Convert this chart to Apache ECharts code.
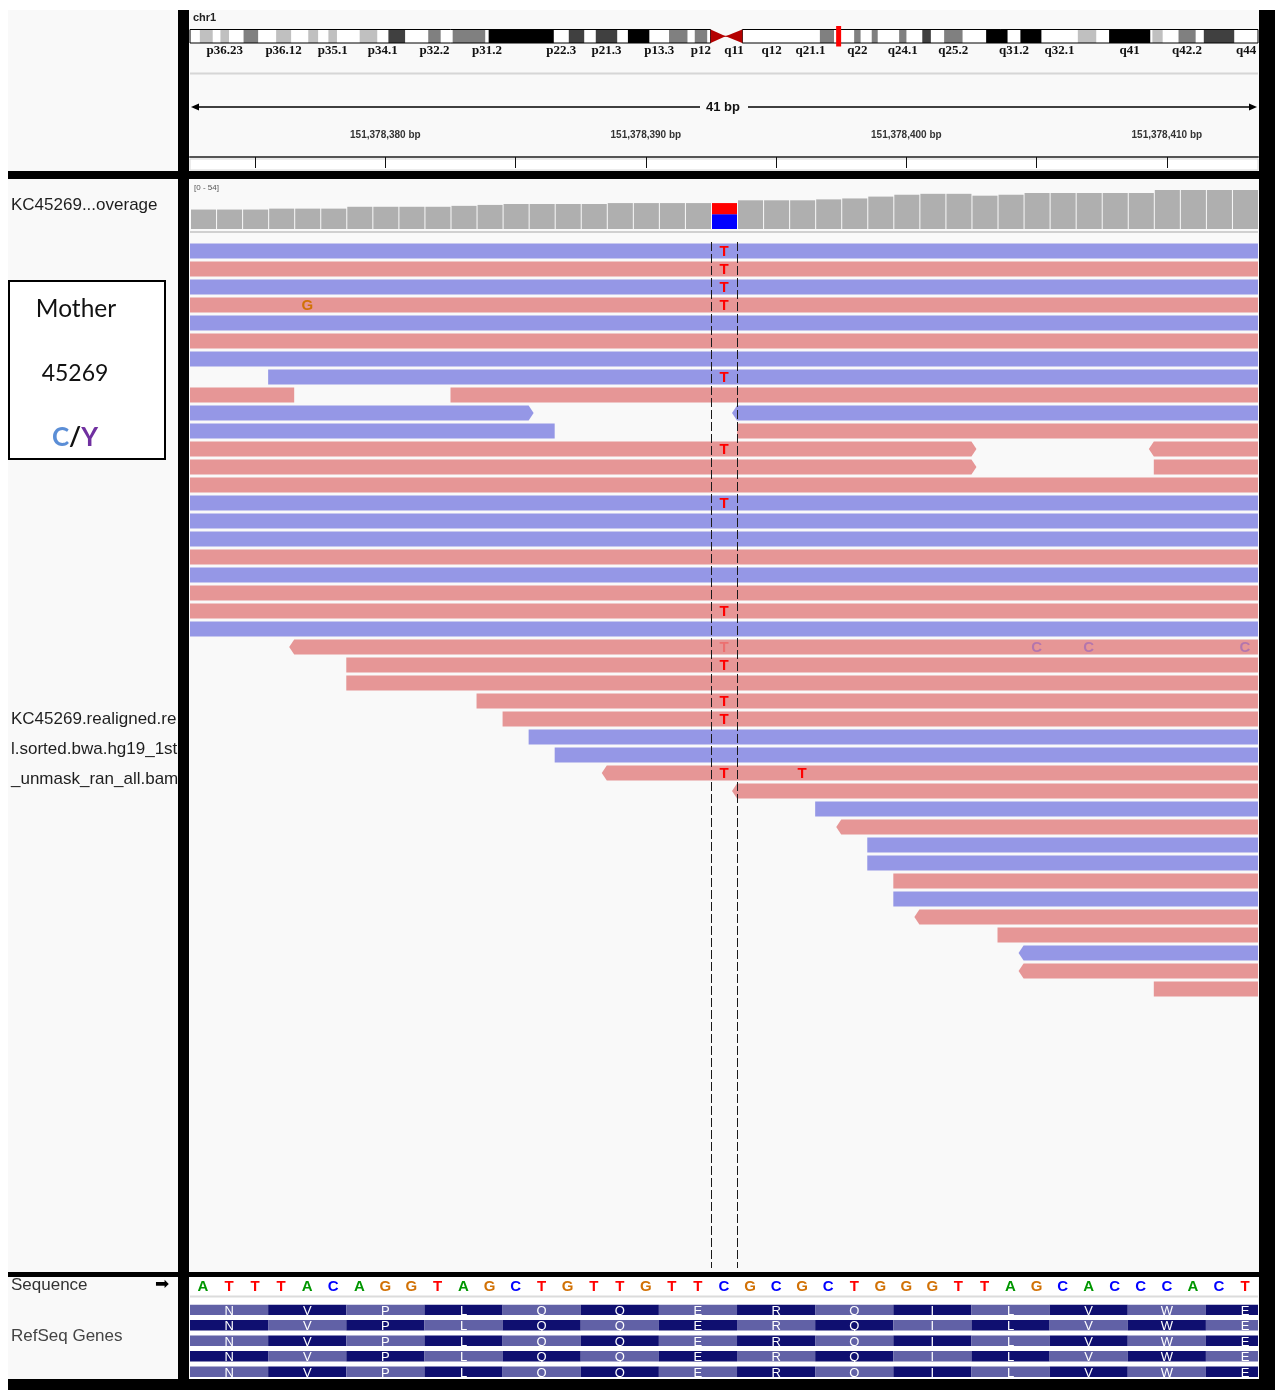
<!DOCTYPE html>
<html>
<head>
<meta charset="utf-8">
<title>KC45269 chr1:151,378,373-151,378,413</title>
<script src="https://cdn.jsdelivr.net/npm/echarts@6/dist/echarts.min.js"></script>
<style>
  html, body { margin: 0; padding: 0; background: #ffffff; }
  #igv { width: 1275px; height: 1390px; }
</style>
</head>
<body>
<div id="igv"></div>
<script>
// ---- locus -------------------------------------------------------------
const POS0 = 151378000;            // positions below are offsets from this coordinate on chr1
const VIEW_START = 372.5;          // left edge of the view (base 373 starts here)
const VIEW_END = 413.5;            // right edge of the view (base 413 ends here)
const CHR_LEN_MB = 249.25;
const LOCUS_MB = 151.378;

// ---- chr1 cytobands (Mb) ----------------------------------------------
const bandStartMb = [2.3, 7.1, 12.5, 20.1, 27.6, 32.3, 39.6, 46.3, 55.6, 61.3,
                     69.7, 88.4, 94.7, 102.2, 111.8, 117.8,
                     147.0, 155.0, 159.1, 165.5, 170.9, 176.0, 185.8, 193.8, 207.2, 214.5,
                     224.6, 230.7, 236.6];
const bandEndMb   = [5.3, 9.1, 15.9, 23.6, 29.9, 34.3, 43.7, 50.2, 58.5, 68.9,
                     84.9, 92.0, 99.7, 107.2, 116.1, 120.7,
                     150.3, 156.5, 160.5, 167.2, 172.9, 180.3, 190.8, 198.7, 211.5, 224.1,
                     227.0, 234.7, 243.7];
const bandStain   = [25, 25, 50, 25, 25, 25, 25, 75, 50, 50,
                     100, 75, 75, 100, 50, 50,
                     50, 50, 50, 50, 75, 50, 100, 100, 25, 100,
                     25, 50, 75];
const centromereMb = [121.5, 125.0, 128.9];   // p-arm end, centre, q-arm start
const bandLabels   = ['p36.23', 'p36.12', 'p35.1', 'p34.1', 'p32.2', 'p31.2', 'p22.3', 'p21.3', 'p13.3', 'p12',
                      'q11', 'q12', 'q21.1', 'q22', 'q24.1', 'q25.2', 'q31.2', 'q32.1', 'q41', 'q42.2', 'q44'];
const bandLabelMb  = [8.1, 21.85, 33.3, 45.0, 57.05, 69.3, 86.65, 97.2, 109.5, 119.25,
                      126.95, 135.75, 144.8, 155.75, 166.35, 178.15, 192.3, 202.95, 219.3, 232.7, 246.5];

// ---- ruler -------------------------------------------------------------
const rulerTicks  = [375, 380, 385, 390, 395, 400, 405, 410];
const rulerLabels = [380, 390, 400, 410];

// ---- coverage (bases 373..413) -----------------------------------------
const covStart = 373;
const covDepth = [21, 21, 21, 22, 22, 22, 24, 24, 24, 24,
                  25, 26, 27, 27, 27, 27, 28, 28, 28, 28,
                  28, 31, 31, 31, 32, 33, 35, 37, 38, 38,
                  36, 37, 39, 39, 39, 39, 39, 42, 42, 42, 42];
const COV_MAX = 54;
const variantPos = 393;
const variantAlleles = ['C', 'T'];       // stacked bottom to top
const variantCounts  = [16, 12];

// ---- alignments: [row, first base, last base, strand, arrow side] -------
const reads = [
  [0, 365, 420, '-', ''], [1, 365, 420, '+', ''], [2, 365, 420, '-', ''], [3, 365, 420, '+', ''],
  [4, 365, 420, '-', ''], [5, 365, 420, '+', ''], [6, 365, 420, '-', ''],
  [7, 376, 420, '-', ''],
  [8, 365, 376, '+', ''], [8, 383, 420, '+', ''],
  [9, 365, 385, '-', 'R'], [9, 394, 420, '-', 'L'],
  [10, 365, 386, '-', ''], [10, 394, 420, '+', ''],
  [11, 365, 402, '+', 'R'], [11, 410, 420, '+', 'L'],
  [12, 365, 402, '+', 'R'], [12, 410, 420, '+', ''],
  [13, 365, 420, '+', ''], [14, 365, 420, '-', ''], [15, 365, 420, '-', ''], [16, 365, 420, '-', ''],
  [17, 365, 420, '+', ''], [18, 365, 420, '-', ''], [19, 365, 420, '+', ''], [20, 365, 420, '+', ''],
  [21, 365, 420, '-', ''],
  [22, 377, 420, '+', 'L'], [23, 379, 420, '+', ''], [24, 379, 420, '+', ''], [25, 384, 420, '+', ''],
  [26, 385, 420, '+', ''], [27, 386, 420, '-', ''], [28, 387, 420, '-', ''], [29, 389, 420, '+', 'L'],
  [30, 394, 420, '+', 'L'], [31, 397, 420, '-', ''], [32, 398, 420, '+', 'L'], [33, 399, 420, '-', ''],
  [34, 399, 420, '-', ''], [35, 400, 420, '+', ''], [36, 400, 420, '-', ''], [37, 401, 420, '+', 'L'],
  [38, 404, 420, '+', ''], [39, 405, 420, '-', 'L'], [40, 405, 420, '+', 'L'], [41, 410, 420, '+', '']
];
const ROWS_SHOWN = 57;

// mismatching bases: [row, position, base, low quality]
const mismatches = [
  [0, 393, 'T', 0], [1, 393, 'T', 0], [2, 393, 'T', 0], [3, 393, 'T', 0], [3, 377, 'G', 0],
  [7, 393, 'T', 0], [11, 393, 'T', 0], [14, 393, 'T', 0], [20, 393, 'T', 0],
  [22, 393, 'T', 1], [22, 405, 'C', 1], [22, 407, 'C', 1], [22, 413, 'C', 1],
  [23, 393, 'T', 0], [25, 393, 'T', 0], [26, 393, 'T', 0], [29, 393, 'T', 0], [29, 396, 'T', 0]
];

// ---- reference sequence & RefSeq transcripts ---------------------------
const seqStart = 373;
const refSeq = 'ATTTACAGGTAGCTGTTGTTCGCGCTGGGTTAGCACCCACT';
const codonStart = 373;
const aminoAcids = ['N', 'V', 'P', 'L', 'Q', 'Q', 'E', 'R', 'Q', 'I', 'L', 'V', 'W', 'E'];
const transcriptPhase = [0, 1, 0, 1, 0];

// ---- styling -----------------------------------------------------------
const READ_PINK = '#e69696';
const READ_BLUE = '#9597e6';
const BASE_COLOR = { A: '#009600', C: '#0000ff', G: '#d17105', T: '#ff0000' };
const BASE_COLOR_LOW = { A: 'rgba(0,150,0,0.25)', C: 'rgba(0,0,255,0.22)', G: 'rgba(209,113,5,0.25)', T: 'rgba(255,0,0,0.25)' };
const STAIN_COLOR = { 25: '#c0c0c0', 50: '#808080', 75: '#404040', 100: '#000000' };
const COV_GRAY = '#afafaf';
const CODON_DARK = '#0f0f70';
const CODON_LIGHT = '#6161a6';
const SANS = '"Liberation Sans", Arial, sans-serif';

const PANEL_LEFT = 190, PANEL_WIDTH = 1068;

function box(api, x0, y0, x1, y1) {
  const a = api.coord([x0, y0]), b = api.coord([x1, y1]);
  return { x: Math.min(a[0], b[0]), y: Math.min(a[1], b[1]),
           width: Math.abs(b[0] - a[0]), height: Math.abs(b[1] - a[1]) };
}
const idx = arr => arr.map((_, i) => [i]);

const chart = echarts.init(document.getElementById('igv'), null, { renderer: 'canvas' });

const grids = [
  { left: PANEL_LEFT, width: PANEL_WIDTH, top: 29.5, height: 13.5 },   // ideogram
  { left: PANEL_LEFT, width: PANEL_WIDTH, top: 146, height: 11 },      // ruler
  { left: PANEL_LEFT, width: PANEL_WIDTH, top: 179, height: 50 },      // coverage
  { left: PANEL_LEFT, width: PANEL_WIDTH, top: 242, height: 18 * ROWS_SHOWN }, // alignments
  { left: PANEL_LEFT, width: PANEL_WIDTH, top: 1279, height: 15 },     // sequence
  { left: PANEL_LEFT, width: PANEL_WIDTH, top: 1304.5, height: 77.5 }  // genes
];

const hiddenX = (g) => ({ type: 'value', gridIndex: g, min: VIEW_START, max: VIEW_END, show: false });

const xAxes = [
  { type: 'value', gridIndex: 0, min: 0, max: CHR_LEN_MB, show: false },
  { type: 'value', gridIndex: 1, min: VIEW_START, max: VIEW_END, position: 'top',
    splitLine: { show: false },
    axisLine: { show: false },
    axisTick: { show: true, inside: true, length: 11, customValues: rulerTicks,
                lineStyle: { color: '#111', width: 1 } },
    axisLabel: { show: true, customValues: rulerLabels, margin: 6,
                 formatter: v => (POS0 + v).toLocaleString('en-US') + ' bp',
                 fontSize: 10, fontWeight: 'bold', color: '#333', fontFamily: SANS } },
  { type: 'value', gridIndex: 1, min: VIEW_START, max: VIEW_END, position: 'bottom',
    splitLine: { show: false },
    axisLine: { show: true, onZero: false, lineStyle: { color: '#555', width: 2 } },
    axisTick: { show: false }, axisLabel: { show: false } },
  hiddenX(2), hiddenX(3), hiddenX(4), hiddenX(5)
];

const yAxes = [
  { type: 'value', gridIndex: 0, min: 0, max: 1, show: false },
  { type: 'value', gridIndex: 1, min: 0, max: 1, show: false },
  { type: 'value', gridIndex: 2, min: 0, max: COV_MAX, show: false },
  { type: 'value', gridIndex: 3, min: 0, max: ROWS_SHOWN, inverse: true, show: false },
  { type: 'value', gridIndex: 4, min: 0, max: 1, show: false },
  { type: 'value', gridIndex: 5, min: 0, max: transcriptPhase.length, inverse: true, show: false }
];

const series = [
  // chromosome arms (white body)
  { type: 'custom', xAxisIndex: 0, yAxisIndex: 0, silent: true, data: [[0], [1]],
    renderItem: (p, api) => {
      const arm = p.dataIndex === 0 ? [0, centromereMb[0]] : [centromereMb[2], CHR_LEN_MB];
      return { type: 'rect', shape: box(api, arm[0], 1, arm[1], 0), style: { fill: '#ffffff' } };
    } },
  // stained bands
  { type: 'custom', xAxisIndex: 0, yAxisIndex: 0, silent: true, data: idx(bandStartMb),
    renderItem: (p, api) => ({
      type: 'rect', shape: box(api, bandStartMb[p.dataIndex], 1, bandEndMb[p.dataIndex], 0),
      style: { fill: STAIN_COLOR[bandStain[p.dataIndex]] } }) },
  // arm outlines, centromere and current locus
  { type: 'custom', xAxisIndex: 0, yAxisIndex: 0, silent: true, data: [[0]],
    renderItem: (p, api) => {
      const pArm = box(api, 0, 1, centromereMb[0], 0);
      const qArm = box(api, centromereMb[2], 1, CHR_LEN_MB, 0);
      const top = api.coord([0, 1])[1], bot = api.coord([0, 0])[1], mid = (top + bot) / 2;
      const xp = api.coord([centromereMb[0], 0])[0];
      const xc = api.coord([centromereMb[1], 0])[0];
      const xq = api.coord([centromereMb[2], 0])[0];
      const xl = api.coord([LOCUS_MB, 0])[0];
      return { type: 'group', children: [
        { type: 'rect', shape: pArm, style: { fill: 'none', stroke: '#000', lineWidth: 1 } },
        { type: 'rect', shape: qArm, style: { fill: 'none', stroke: '#000', lineWidth: 1 } },
        { type: 'line', shape: { x1: xp, y1: mid, x2: xq, y2: mid }, style: { stroke: '#b40000', lineWidth: 1 } },
        { type: 'polygon', shape: { points: [[xp, top], [xc, mid], [xp, bot]] }, style: { fill: '#b40000' } },
        { type: 'polygon', shape: { points: [[xq, top], [xc, mid], [xq, bot]] }, style: { fill: '#b40000' } },
        { type: 'rect', shape: { x: xl - 2.5, y: top - 3.5, width: 5, height: bot - top + 7 },
          style: { fill: '#ff0000' } }
      ] };
    } },
  // band names
  { type: 'custom', xAxisIndex: 0, yAxisIndex: 0, silent: true, data: idx(bandLabels),
    renderItem: (p, api) => {
      const pt = api.coord([bandLabelMb[p.dataIndex], 0]);
      return { type: 'text', x: pt[0], y: pt[1] + 8,
        style: { text: bandLabels[p.dataIndex], align: 'center', verticalAlign: 'middle',
                 font: 'bold 13px "Liberation Serif", serif', fill: '#111' } };
    } },
  // coverage
  { type: 'custom', xAxisIndex: 3, yAxisIndex: 2, silent: true, clip: true, data: idx(covDepth),
    renderItem: (p, api) => {
      const pos = covStart + p.dataIndex;
      const r = box(api, pos - 0.5, covDepth[p.dataIndex], pos + 0.5, 0);
      r.x += 1; r.width -= 1;
      if (pos !== variantPos) {
        return { type: 'rect', shape: r, style: { fill: COV_GRAY } };
      }
      const kids = [];
      let acc = 0;
      variantAlleles.forEach((b, k) => {
        const s = box(api, pos - 0.5, acc + variantCounts[k], pos + 0.5, acc);
        s.x += 1; s.width -= 1;
        kids.push({ type: 'rect', shape: s, style: { fill: BASE_COLOR[b] } });
        acc += variantCounts[k];
      });
      return { type: 'group', children: kids };
    } },
  // reads
  { type: 'custom', xAxisIndex: 4, yAxisIndex: 3, silent: true, clip: true, data: idx(reads),
    renderItem: (p, api) => {
      const [row, s, e, strand, arrow] = reads[p.dataIndex];
      const a = api.coord([s - 0.5, row + 0.08]);
      const b = api.coord([e + 0.5, row + 0.92]);
      const x0 = a[0], x1 = b[0], y0 = a[1], y1 = b[1], ym = (y0 + y1) / 2;
      let pts;
      if (arrow === 'R') pts = [[x0, y0], [x1, y0], [x1 + 5, ym], [x1, y1], [x0, y1]];
      else if (arrow === 'L') pts = [[x0, y0], [x1, y0], [x1, y1], [x0, y1], [x0 - 5, ym]];
      else pts = [[x0, y0], [x1, y0], [x1, y1], [x0, y1]];
      return { type: 'polygon', shape: { points: pts },
               style: { fill: strand === '+' ? READ_PINK : READ_BLUE } };
    } },
  // mismatching bases
  { type: 'custom', xAxisIndex: 4, yAxisIndex: 3, silent: true, clip: true, data: idx(mismatches),
    renderItem: (p, api) => {
      const [row, pos, base, low] = mismatches[p.dataIndex];
      const pt = api.coord([pos, row + 0.5]);
      return { type: 'text', x: pt[0], y: pt[1] + 1,
        style: { text: base, align: 'center', verticalAlign: 'middle',
                 font: 'bold 15px ' + SANS, fill: low ? BASE_COLOR_LOW[base] : BASE_COLOR[base] } };
    } },
  // centre lines around the variant base
  { type: 'custom', xAxisIndex: 4, yAxisIndex: 3, silent: true, data: [[0], [1]],
    renderItem: (p, api) => {
      const x = variantPos - 0.5 + p.dataIndex;
      const a = api.coord([x, 0]), b = api.coord([x, ROWS_SHOWN]);
      return { type: 'line', shape: { x1: Math.round(a[0]) + 0.5, y1: a[1], x2: Math.round(b[0]) + 0.5, y2: b[1] },
               style: { stroke: '#1a1a1a', lineWidth: 1, lineDash: [9, 3] } };
    } },
  // reference sequence
  { type: 'custom', xAxisIndex: 5, yAxisIndex: 4, silent: true, data: idx(refSeq.split('')),
    renderItem: (p, api) => {
      const base = refSeq[p.dataIndex];
      const pt = api.coord([seqStart + p.dataIndex, 0.5]);
      return { type: 'text', x: pt[0], y: pt[1],
        style: { text: base, align: 'center', verticalAlign: 'middle',
                 font: 'bold 15px ' + SANS, fill: BASE_COLOR[base] } };
    } },
  // RefSeq transcripts, codon by codon
  { type: 'custom', xAxisIndex: 6, yAxisIndex: 5, silent: true, clip: true,
    data: transcriptPhase.flatMap((_, r) => aminoAcids.map((__, k) => [r, k])),
    renderItem: (p, api) => {
      const r = api.value(0), k = api.value(1);
      const c0 = codonStart + 3 * k;
      const shade = (k + transcriptPhase[r]) % 2 === 0 ? CODON_LIGHT : CODON_DARK;
      const rect = box(api, c0 - 0.5, r, c0 + 2.5, r + 0.68);
      const mid = api.coord([c0 + 1, r + 0.34]);
      return { type: 'group', children: [
        { type: 'rect', shape: rect, style: { fill: shade } },
        { type: 'text', x: mid[0], y: mid[1] + 1.5,
          style: { text: aminoAcids[k], align: 'center', verticalAlign: 'middle',
                   font: '13px ' + SANS, fill: '#ffffff' } }
      ] };
    } }
];

// frame, separators and track names
const T = (text, x, y, font, fill, extra) => Object.assign({
  type: 'text', x, y, z: 5,
  style: { text, font, fill, align: 'left', verticalAlign: 'middle' }
}, extra || {});
const spanText = (VIEW_END - VIEW_START) + ' bp';

const graphic = [
  { type: 'rect', z: -20, shape: { x: 0, y: 0, width: 1275, height: 1390 }, style: { fill: '#ffffff' } },
  { type: 'rect', z: -19, shape: { x: 8, y: 10, width: 1251, height: 1370 }, style: { fill: '#f9f9f9' } },
  { type: 'rect', z: -18, shape: { x: 190, y: 1277, width: 1068, height: 102 }, style: { fill: '#ffffff' } },
  { type: 'rect', z: -18, shape: { x: 190, y: 159, width: 1068, height: 11 }, style: { fill: '#ffffff', stroke: '#d8d8d8', lineWidth: 1 } },
  { type: 'line', z: -17, shape: { x1: 190, y1: 73.5, x2: 1258, y2: 73.5 }, style: { stroke: '#d6d6d6', lineWidth: 2 } },
  { type: 'line', z: -17, shape: { x1: 190, y1: 232, x2: 1258, y2: 232 }, style: { stroke: '#d0d0d0', lineWidth: 2 } },
  { type: 'line', z: -17, shape: { x1: 190, y1: 1296.5, x2: 1258, y2: 1296.5 }, style: { stroke: '#dcdcdc', lineWidth: 2 } },

  // ruler span
  { type: 'line', z: 3, shape: { x1: 194, y1: 107, x2: 700, y2: 107 }, style: { stroke: '#000', lineWidth: 1.5 } },
  { type: 'line', z: 3, shape: { x1: 748, y1: 107, x2: 1253, y2: 107 }, style: { stroke: '#000', lineWidth: 1.5 } },
  { type: 'polygon', z: 3, shape: { points: [[191, 107], [199, 103.5], [199, 110.5]] }, style: { fill: '#000' } },
  { type: 'polygon', z: 3, shape: { points: [[1257, 107], [1249, 103.5], [1249, 110.5]] }, style: { fill: '#000' } },
  { type: 'text', z: 3, x: 723, y: 107, style: { text: spanText, font: 'bold 13px ' + SANS, fill: '#111', align: 'center', verticalAlign: 'middle' } },

  T('chr1', 193, 18, 'bold 11px ' + SANS, '#222'),
  { type: 'text', z: 5, x: 194, y: 188, style: { text: '[0 - 54]', font: '8px ' + SANS, fill: '#555', align: 'left', verticalAlign: 'middle' } },

  T('KC45269...overage', 11, 205, '17px ' + SANS, '#1e1e1e'),
  T('KC45269.realigned.re', 11, 719, '17px ' + SANS, '#1e1e1e'),
  T('l.sorted.bwa.hg19_1st', 11, 749, '17px ' + SANS, '#1e1e1e'),
  T('_unmask_ran_all.bam', 11, 779, '17px ' + SANS, '#1e1e1e'),
  T('Sequence', 11, 1285, '17px ' + SANS, '#333'),
  T('\u27A1', 155, 1285, '17px "DejaVu Sans", sans-serif', '#000'),
  T('RefSeq Genes', 11, 1336, '17px ' + SANS, '#444'),

  // sample box
  { type: 'rect', z: 5, shape: { x: 9, y: 281, width: 156, height: 178 }, style: { fill: '#ffffff', stroke: '#000', lineWidth: 2 } },
  { type: 'text', z: 6, x: 76, y: 309, style: { text: 'Mother', font: '24.5px Lato, "Open Sans", sans-serif', fill: '#111', align: 'center', verticalAlign: 'middle' } },
  { type: 'text', z: 6, x: 75, y: 374, style: { text: '45269', font: '23px Lato, "Open Sans", sans-serif', fill: '#111', align: 'center', verticalAlign: 'middle' } },
  { type: 'text', z: 6, x: 75, y: 438, style: {
      text: '{c|C}{s|/}{y|Y}', align: 'center', verticalAlign: 'middle',
      rich: {
        c: { font: 'bold 26px Lato, sans-serif', fill: '#5b8ed6' },
        s: { font: 'bold 26px Lato, sans-serif', fill: '#111' },
        y: { font: 'bold 26px Lato, sans-serif', fill: '#7030a0' }
      } } },

  // black dividers
  { type: 'rect', z: 50, shape: { x: 178, y: 10, width: 11, height: 1370 }, style: { fill: '#000' } },
  { type: 'rect', z: 50, shape: { x: 1259, y: 10, width: 16, height: 1380 }, style: { fill: '#000' } },
  { type: 'rect', z: 50, shape: { x: 8, y: 171, width: 1267, height: 8 }, style: { fill: '#000' } },
  { type: 'rect', z: 50, shape: { x: 8, y: 1272, width: 1267, height: 5 }, style: { fill: '#000' } },
  { type: 'rect', z: 50, shape: { x: 8, y: 1379, width: 1267, height: 11 }, style: { fill: '#000' } }
];

chart.setOption({
  animation: false,
  backgroundColor: '#ffffff',
  textStyle: { fontFamily: SANS },
  grid: grids,
  xAxis: xAxes,
  yAxis: yAxes,
  series: series,
  graphic: graphic
});
</script>
</body>
</html>
